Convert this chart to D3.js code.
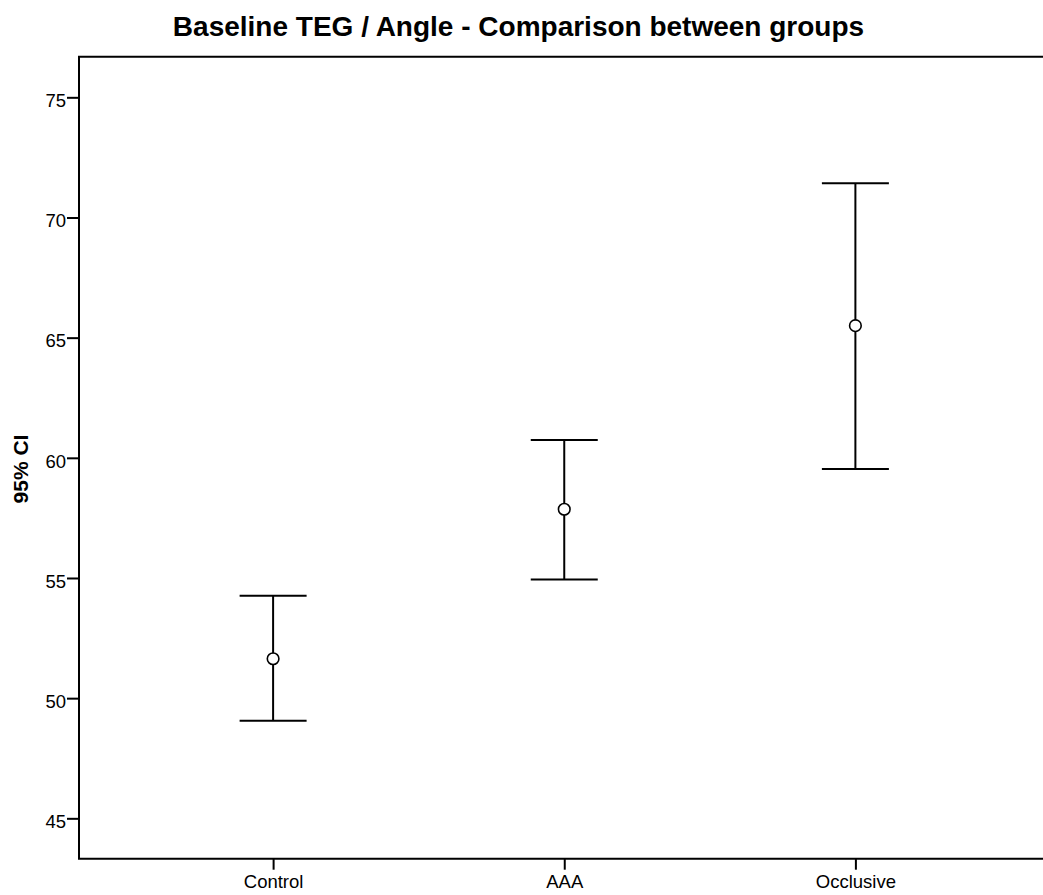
<!DOCTYPE html>
<html>
<head>
<meta charset="utf-8">
<script src="https://cdn.jsdelivr.net/npm/d3@7"></script>
<style>
  html, body { margin: 0; padding: 0; background: #fff; }
  svg { display: block; }
  text { font-family: "Liberation Sans", Arial, sans-serif; fill: #000; }
</style>
</head>
<body>
<svg id="chart" width="1043" height="895"></svg>
<script>
const categories = ["Control", "AAA", "Occlusive"];
const means = [51.64, 57.86, 65.50];
const lowerCI = [49.06, 54.94, 59.53];
const upperCI = [54.26, 60.74, 71.42];
const yTicks = [45, 50, 55, 60, 65, 70, 75];
const titleText = "Baseline TEG / Angle - Comparison between groups";
const yLabelText = "95% CI";

(function () {
const svg = d3.select("#chart");
const pLeft = 79, pTop = 56.7, pBottom = 858.7, pRight = 1049.5;

const x = d3.scalePoint().domain(categories).range([pLeft, pRight]).padding(0.6667);
const y = d3.scaleLinear().domain([43.32, 76.69]).range([pBottom, pTop]);

// Frame (top, left, bottom; right side runs off the page)
svg.append("path")
  .attr("d", `M${pRight + 10},${pTop} H${pLeft} V${pBottom} H${pRight + 10}`)
  .attr("fill", "none").attr("stroke", "#000").attr("stroke-width", 2);

// Y axis
const yAxis = svg.append("g")
  .attr("transform", `translate(${pLeft},0)`)
  .call(d3.axisLeft(y).tickValues(yTicks).tickSize(12).tickPadding(1).tickFormat(d3.format("d")));
yAxis.select(".domain").remove();
yAxis.selectAll(".tick line").attr("stroke", "#000").attr("stroke-width", 2);
yAxis.selectAll(".tick text")
  .attr("font-size", "18.5px").attr("font-family", "Liberation Sans, Arial, sans-serif")
  .attr("dy", "0.5em").attr("fill", "#000");

// X axis
const xAxis = svg.append("g")
  .attr("transform", `translate(0,${pBottom})`)
  .call(d3.axisBottom(x).tickSize(11).tickPadding(5));
xAxis.select(".domain").remove();
xAxis.selectAll(".tick line").attr("stroke", "#000").attr("stroke-width", 2);
xAxis.selectAll(".tick text")
  .attr("font-size", "18.5px").attr("font-family", "Liberation Sans, Arial, sans-serif")
  .attr("fill", "#000");

// Error bars
const data = categories.map((c, i) => ({ c, m: means[i], lo: lowerCI[i], hi: upperCI[i] }));
const capHalf = 33.5;
const g = svg.append("g");
g.selectAll(".stem").data(data).join("line")
  .attr("x1", d => x(d.c)).attr("x2", d => x(d.c))
  .attr("y1", d => y(d.hi)).attr("y2", d => y(d.lo))
  .attr("stroke", "#000").attr("stroke-width", 2);
g.selectAll(".capTop").data(data).join("line")
  .attr("x1", d => x(d.c) - capHalf).attr("x2", d => x(d.c) + capHalf)
  .attr("y1", d => y(d.hi)).attr("y2", d => y(d.hi))
  .attr("stroke", "#000").attr("stroke-width", 2);
g.selectAll(".capBot").data(data).join("line")
  .attr("x1", d => x(d.c) - capHalf).attr("x2", d => x(d.c) + capHalf)
  .attr("y1", d => y(d.lo)).attr("y2", d => y(d.lo))
  .attr("stroke", "#000").attr("stroke-width", 2);
g.selectAll("circle").data(data).join("circle")
  .attr("cx", d => x(d.c)).attr("cy", d => y(d.m)).attr("r", 5.8)
  .attr("fill", "#fff").attr("stroke", "#000").attr("stroke-width", 1.6);

// Title
svg.append("text")
  .attr("x", 518.5).attr("y", 36)
  .attr("text-anchor", "middle")
  .attr("font-size", "28px").attr("font-weight", "bold")
  .text(titleText);

// Y label
svg.append("text")
  .attr("transform", `translate(28,469) rotate(-90)`)
  .attr("text-anchor", "middle")
  .attr("font-size", "21px").attr("font-weight", "bold")
  .text(yLabelText);
})();
</script>
</body>
</html>
